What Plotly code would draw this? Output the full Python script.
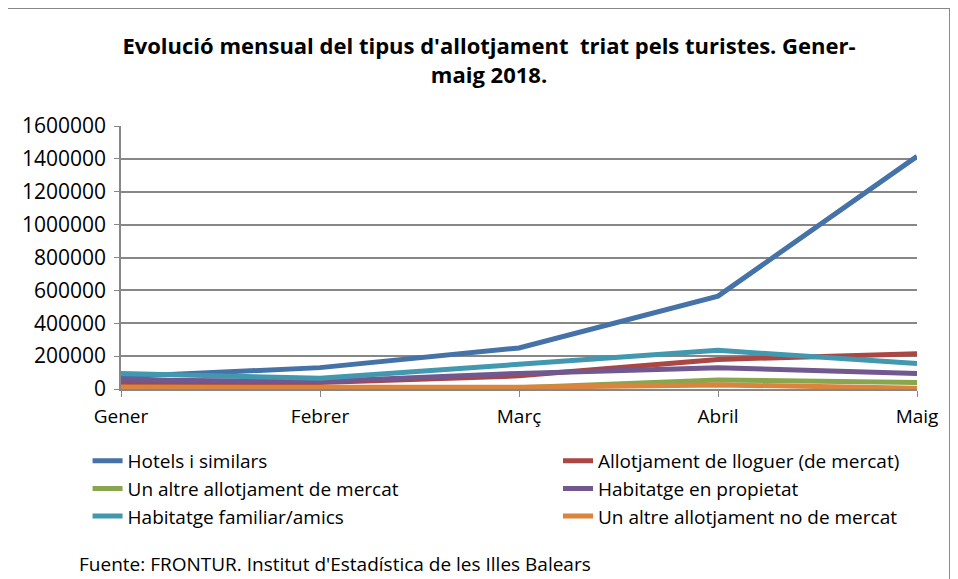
import plotly.graph_objects as go

months = ["Gener", "Febrer", "Març", "Abril", "Maig"]

hotels = [75000, 130000, 250000, 565000, 1415000]
lloguer = [35000, 40000, 80000, 180000, 215000]
altre_mercat = [5000, 5000, 8000, 55000, 40000]
propietat = [55000, 45000, 95000, 130000, 95000]
familiar = [95000, 65000, 150000, 235000, 155000]
altre_no_mercat = [12000, 12000, 10000, 25000, 5000]

# (name, values, colour, legend column)
series = [
    ("Hotels i similars", hotels, "#4572A7", "legend"),
    ("Allotjament de lloguer (de mercat)", lloguer, "#AA4643", "legend2"),
    ("Un altre allotjament de mercat", altre_mercat, "#89A54E", "legend"),
    ("Habitatge en propietat", propietat, "#71588F", "legend2"),
    ("Habitatge familiar/amics", familiar, "#4198AF", "legend"),
    ("Un altre allotjament no de mercat", altre_no_mercat, "#DB843D", "legend2"),
]

FONT = "Open Sans, sans-serif"
GRID = "#878787"

fig = go.Figure()
for name, vals, color, leg in series:
    fig.add_trace(go.Scatter(
        x=list(range(len(months))),
        y=vals,
        mode="lines",
        name=name,
        legend=leg,
        legendgroup=name,
        line=dict(color=color, width=5),
    ))

legend_style = dict(
    orientation="v",
    yanchor="top",
    y=-0.201,
    xanchor="left",
    font=dict(size=19),
    tracegroupgap=0,
    bgcolor="rgba(0,0,0,0)",
)

# the page body adds an 8px offset, so the figure is 8px smaller than the window
fig.update_layout(
    width=950,
    height=571,
    margin=dict(l=113, r=41, t=118, b=190, autoexpand=False),
    paper_bgcolor="white",
    plot_bgcolor="white",
    font=dict(family=FONT, size=19, color="black"),
    title=dict(
        text="<b>Evolució mensual del tipus d'allotjament  triat pels turistes. Gener-<br>maig 2018.</b>",
        x=0.5063, xanchor="center",
        y=0.9186, yanchor="middle",
        font=dict(size=22),
    ),
    legend=dict(legend_style, x=-0.042),
    legend2=dict(legend_style, x=0.549),
)

fig.update_xaxes(
    range=[0, 4],
    tickvals=list(range(len(months))),
    ticktext=months,
    showgrid=False,
    showline=True, linecolor=GRID, linewidth=1.5,
    ticks="outside", ticklen=6, tickcolor=GRID,
    ticklabelstandoff=3,
)
fig.update_yaxes(
    range=[0, 1600000],
    dtick=200000,
    tickformat="d",
    tickfont=dict(size=21),
    showgrid=True, gridcolor=GRID, gridwidth=1.5,
    showline=True, linecolor=GRID, linewidth=1.5,
    ticks="outside", ticklen=5, tickcolor=GRID,
    ticklabelstandoff=4,
    zeroline=False,
)

# chart frame
fig.add_shape(
    type="rect", xref="paper", yref="paper",
    x0=-0.1495, x1=1.0415, y0=-0.75, y1=1.4487,
    line=dict(color=GRID, width=2),
)

fig.add_annotation(
    text="Fuente: FRONTUR. Institut d'Estadística de les Illes Balears",
    xref="paper", yref="paper",
    x=-0.055, xanchor="left",
    y=-0.664, yanchor="middle",
    showarrow=False,
    font=dict(size=19),
)

fig.write_html("out.html")
